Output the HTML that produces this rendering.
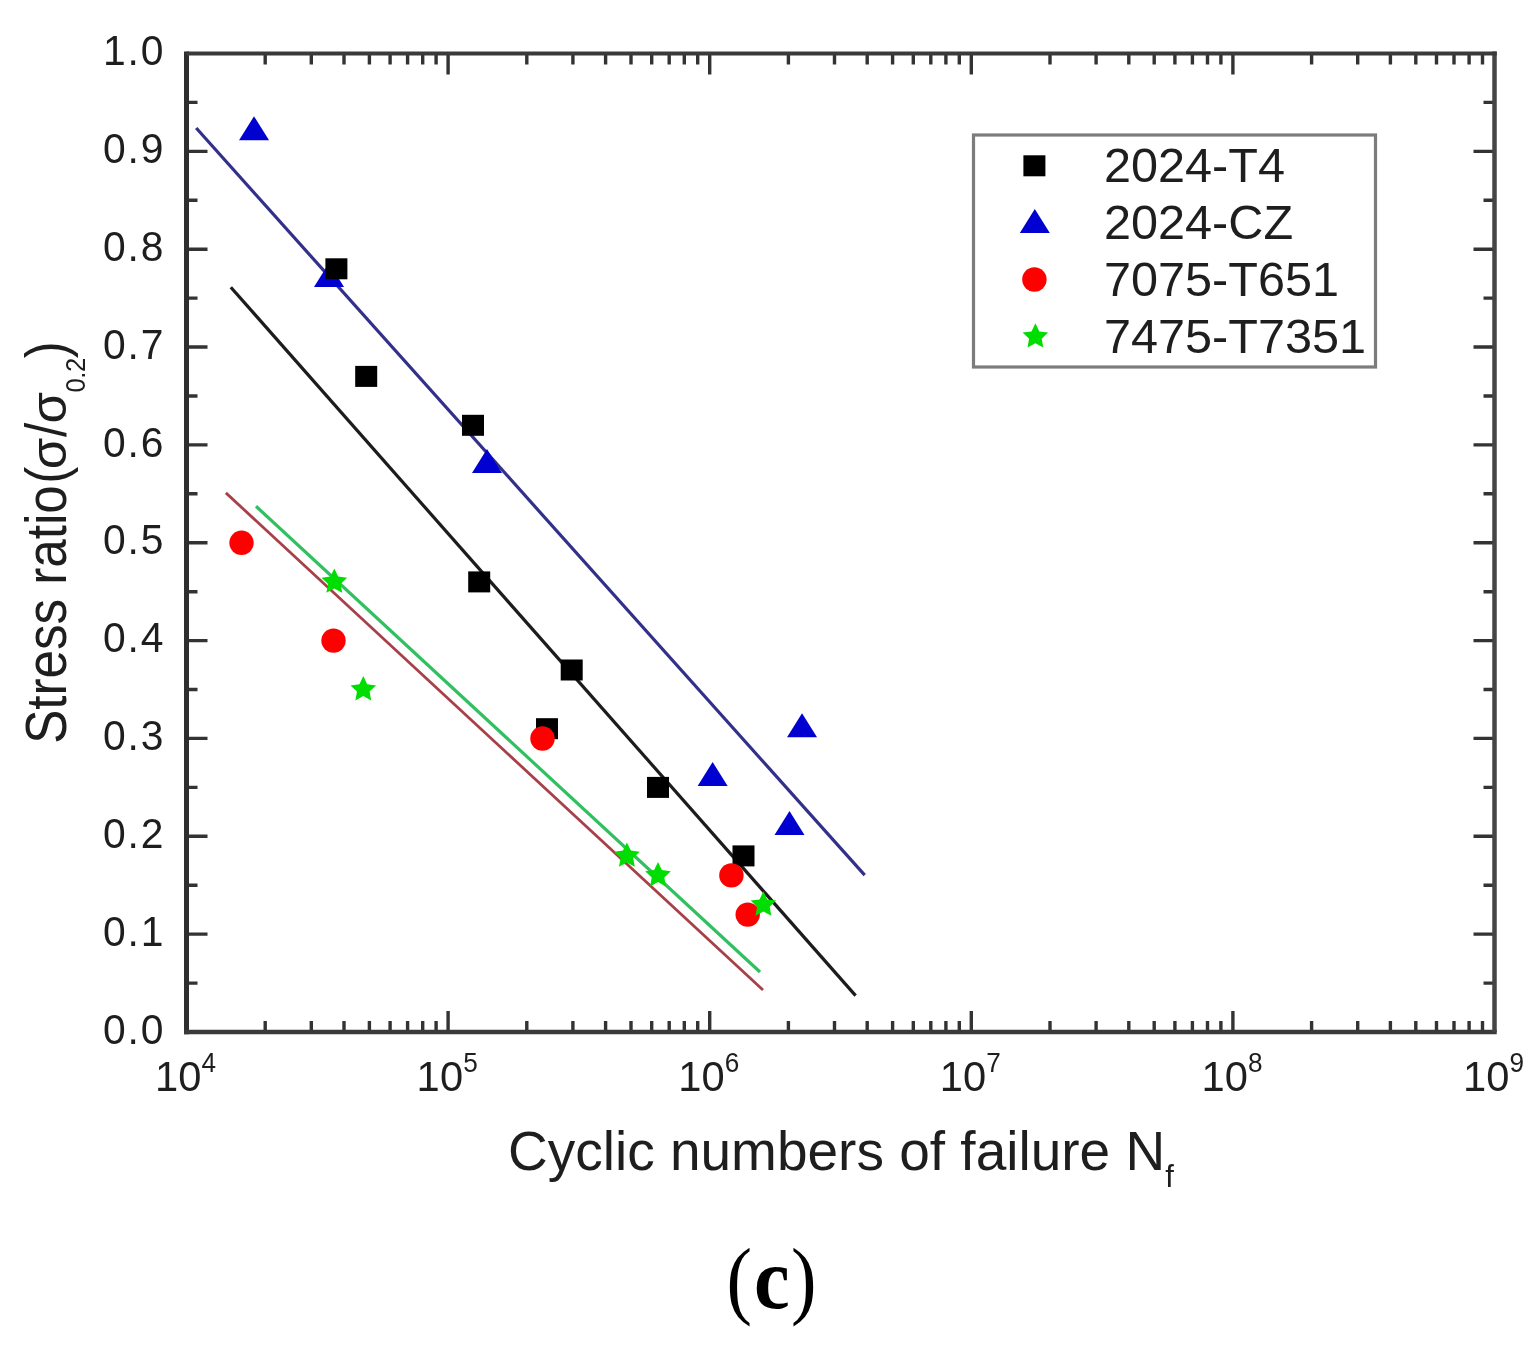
<!DOCTYPE html><html><head><meta charset="utf-8"><title>Stress ratio vs cyclic numbers of failure</title>
<style>html,body{margin:0;padding:0;background:#fff;overflow:hidden;}svg{display:block;}text{font-family:"Liberation Sans",Arial,sans-serif;}text.sf{font-family:"Liberation Serif","Times New Roman",serif;}</style></head><body>
<svg width="1538" height="1348" viewBox="0 0 1538 1348">
<rect width="1538" height="1348" fill="#ffffff"/>
<path d="M186.5 983.1h11M1494.5 983.1h-11M186.5 934.1h21M1494.5 934.1h-21M186.5 885.2h11M1494.5 885.2h-11M186.5 836.3h21M1494.5 836.3h-21M186.5 787.4h11M1494.5 787.4h-11M186.5 738.4h21M1494.5 738.4h-21M186.5 689.5h11M1494.5 689.5h-11M186.5 640.6h21M1494.5 640.6h-21M186.5 591.7h11M1494.5 591.7h-11M186.5 542.8h21M1494.5 542.8h-21M186.5 493.8h11M1494.5 493.8h-11M186.5 444.9h21M1494.5 444.9h-21M186.5 396.0h11M1494.5 396.0h-11M186.5 347.0h21M1494.5 347.0h-21M186.5 298.1h11M1494.5 298.1h-11M186.5 249.2h21M1494.5 249.2h-21M186.5 200.3h11M1494.5 200.3h-11M186.5 151.4h21M1494.5 151.4h-21M186.5 102.4h11M1494.5 102.4h-11M265.2 1032.0v-11M265.2 53.5v11M311.3 1032.0v-11M311.3 53.5v11M344.0 1032.0v-11M344.0 53.5v11M369.4 1032.0v-11M369.4 53.5v11M390.1 1032.0v-11M390.1 53.5v11M407.6 1032.0v-11M407.6 53.5v11M422.7 1032.0v-11M422.7 53.5v11M436.1 1032.0v-11M436.1 53.5v11M448.1 1032.0v-21M448.1 53.5v21M526.8 1032.0v-11M526.8 53.5v11M572.9 1032.0v-11M572.9 53.5v11M605.6 1032.0v-11M605.6 53.5v11M631.0 1032.0v-11M631.0 53.5v11M651.7 1032.0v-11M651.7 53.5v11M669.2 1032.0v-11M669.2 53.5v11M684.3 1032.0v-11M684.3 53.5v11M697.7 1032.0v-11M697.7 53.5v11M709.7 1032.0v-21M709.7 53.5v21M788.4 1032.0v-11M788.4 53.5v11M834.5 1032.0v-11M834.5 53.5v11M867.2 1032.0v-11M867.2 53.5v11M892.6 1032.0v-11M892.6 53.5v11M913.3 1032.0v-11M913.3 53.5v11M930.8 1032.0v-11M930.8 53.5v11M945.9 1032.0v-11M945.9 53.5v11M959.3 1032.0v-11M959.3 53.5v11M971.3 1032.0v-21M971.3 53.5v21M1050.0 1032.0v-11M1050.0 53.5v11M1096.1 1032.0v-11M1096.1 53.5v11M1128.8 1032.0v-11M1128.8 53.5v11M1154.2 1032.0v-11M1154.2 53.5v11M1174.9 1032.0v-11M1174.9 53.5v11M1192.4 1032.0v-11M1192.4 53.5v11M1207.5 1032.0v-11M1207.5 53.5v11M1220.9 1032.0v-11M1220.9 53.5v11M1232.9 1032.0v-21M1232.9 53.5v21M1311.6 1032.0v-11M1311.6 53.5v11M1357.7 1032.0v-11M1357.7 53.5v11M1390.4 1032.0v-11M1390.4 53.5v11M1415.8 1032.0v-11M1415.8 53.5v11M1436.5 1032.0v-11M1436.5 53.5v11M1454.0 1032.0v-11M1454.0 53.5v11M1469.1 1032.0v-11M1469.1 53.5v11M1482.5 1032.0v-11M1482.5 53.5v11" stroke="#333333" stroke-width="3.4" fill="none"/>
<path d="M186.5 51.5V1034.25" stroke="#2e2e2e" stroke-width="5" fill="none"/>
<path d="M184.0 1032.0H1496.75" stroke="#3a3a3a" stroke-width="4.5" fill="none"/>
<path d="M1494.5 51.5V1032.0" stroke="#454545" stroke-width="4.5" fill="none"/>
<path d="M186.5 53.5H1496.75" stroke="#3a3a3a" stroke-width="4" fill="none"/>
<g font-size="43" fill="#1e1e1e" letter-spacing="2.0">
<text transform="translate(161.8 1043.6) scale(0.95 1)" x="3.8" text-anchor="end">0.0</text>
<text transform="translate(161.8 945.8) scale(0.95 1)" x="3.8" text-anchor="end">0.1</text>
<text transform="translate(161.8 847.9) scale(0.95 1)" x="3.8" text-anchor="end">0.2</text>
<text transform="translate(161.8 750.1) scale(0.95 1)" x="3.8" text-anchor="end">0.3</text>
<text transform="translate(161.8 652.2) scale(0.95 1)" x="3.8" text-anchor="end">0.4</text>
<text transform="translate(161.8 554.4) scale(0.95 1)" x="3.8" text-anchor="end">0.5</text>
<text transform="translate(161.8 456.5) scale(0.95 1)" x="3.8" text-anchor="end">0.6</text>
<text transform="translate(161.8 358.7) scale(0.95 1)" x="3.8" text-anchor="end">0.7</text>
<text transform="translate(161.8 260.8) scale(0.95 1)" x="3.8" text-anchor="end">0.8</text>
<text transform="translate(161.8 163.0) scale(0.95 1)" x="3.8" text-anchor="end">0.9</text>
<text transform="translate(161.8 65.1) scale(0.95 1)" x="3.8" text-anchor="end">1.0</text>
</g>
<g font-size="43" fill="#1e1e1e" letter-spacing="0.1">
<text transform="translate(155.0 1091.2) scale(0.97 1)">10<tspan font-size="27" dy="-19.2">4</tspan></text>
<text transform="translate(416.6 1091.2) scale(0.97 1)">10<tspan font-size="27" dy="-19.2">5</tspan></text>
<text transform="translate(678.2 1091.2) scale(0.97 1)">10<tspan font-size="27" dy="-19.2">6</tspan></text>
<text transform="translate(939.8 1091.2) scale(0.97 1)">10<tspan font-size="27" dy="-19.2">7</tspan></text>
<text transform="translate(1201.4 1091.2) scale(0.97 1)">10<tspan font-size="27" dy="-19.2">8</tspan></text>
<text transform="translate(1463.0 1091.2) scale(0.97 1)">10<tspan font-size="27" dy="-19.2">9</tspan></text>
</g>
<text x="508.0" y="1169.5" font-size="55" letter-spacing="0" fill="#1e1e1e">Cyclic numbers of failure N<tspan font-size="31" dy="17">f</tspan></text>
<g transform="translate(66 741) rotate(-90) scale(0.93 1.03)" font-size="55" fill="#1e1e1e"><text x="-3.1" y="0" letter-spacing="0">Stress ratio</text><text x="276.5" y="0">(</text><text transform="translate(292.2 0) scale(1.13 1)" font-size="48.7">σ</text><text x="326.8" y="0">/</text><text transform="translate(341.4 0) scale(1.13 1)" font-size="48.7">σ</text><text x="374.7" y="18.8" font-size="27.5" letter-spacing="-0.4">0.2</text><text x="411.5" y="0">)</text></g>
<g stroke-linecap="butt" fill="none">
<line x1="196.2" y1="128" x2="864.7" y2="875.1" stroke="#33308a" stroke-width="3.2"/>
<line x1="230.8" y1="287.2" x2="855.6" y2="995.6" stroke="#1c1c1c" stroke-width="3.2"/>
<line x1="225.9" y1="492.9" x2="763" y2="990" stroke="#a8404a" stroke-width="2.8"/>
<line x1="256" y1="506.3" x2="760" y2="972" stroke="#30c060" stroke-width="3.2"/>
</g>
<path d="M254.0 116.3L269.0 140.3L239.0 140.3Z" fill="#0000d0"/>
<path d="M329.0 263.1L344.0 287.1L314.0 287.1Z" fill="#0000d0"/>
<path d="M487.0 449.0L502.0 473.0L472.0 473.0Z" fill="#0000d0"/>
<path d="M712.6 762.1L727.6 786.1L697.6 786.1Z" fill="#0000d0"/>
<path d="M789.5 811.0L804.5 835.0L774.5 835.0Z" fill="#0000d0"/>
<path d="M802.0 713.2L817.0 737.2L787.0 737.2Z" fill="#0000d0"/>
<rect x="325.4" y="258.3" width="22" height="21" fill="#000"/>
<rect x="355.2" y="365.9" width="22" height="21" fill="#000"/>
<rect x="462.0" y="414.8" width="22" height="21" fill="#000"/>
<rect x="468.2" y="571.4" width="22" height="21" fill="#000"/>
<rect x="536.0" y="718.2" width="22" height="21" fill="#000"/>
<rect x="560.7" y="659.5" width="22" height="21" fill="#000"/>
<rect x="647.0" y="776.9" width="22" height="21" fill="#000"/>
<rect x="732.5" y="845.4" width="22" height="21" fill="#000"/>
<circle cx="241.5" cy="542.8" r="12.2" fill="#ff0000"/>
<circle cx="333.5" cy="640.6" r="12.2" fill="#ff0000"/>
<circle cx="542.5" cy="738.5" r="12.2" fill="#ff0000"/>
<circle cx="731.4" cy="875.4" r="12.2" fill="#ff0000"/>
<circle cx="747.7" cy="914.6" r="12.2" fill="#ff0000"/>
<polygon points="334.3,568.4 338.2,576.6 347.1,577.7 340.6,583.9 342.2,592.8 334.3,588.5 326.4,592.8 328.0,583.9 321.5,577.7 330.4,576.6" fill="#00dd00"/>
<polygon points="363.3,676.0 367.2,684.2 376.1,685.4 369.6,691.6 371.2,700.4 363.3,696.1 355.4,700.4 357.0,691.6 350.5,685.4 359.4,684.2" fill="#00dd00"/>
<polygon points="626.9,842.4 630.8,850.5 639.7,851.7 633.2,857.9 634.8,866.8 626.9,862.5 619.0,866.8 620.6,857.9 614.1,851.7 623.0,850.5" fill="#00dd00"/>
<polygon points="658.0,861.9 661.9,870.1 670.8,871.3 664.3,877.5 665.9,886.4 658.0,882.0 650.1,886.4 651.7,877.5 645.2,871.3 654.1,870.1" fill="#00dd00"/>
<polygon points="763.4,891.3 767.3,899.5 776.2,900.6 769.7,906.8 771.3,915.7 763.4,911.4 755.5,915.7 757.1,906.8 750.6,900.6 759.5,899.5" fill="#00dd00"/>
<rect x="973.5" y="135" width="402" height="232" fill="#fff" stroke="#7c7c7c" stroke-width="3.2"/>
<rect x="1023.4" y="155.3" width="22" height="21" fill="#000"/>
<path d="M1034.8 209.0L1049.8 233.0L1019.8 233.0Z" fill="#0000d0"/>
<circle cx="1034.4" cy="279.5" r="12.2" fill="#ff0000"/>
<polygon points="1035.4,323.2 1039.3,331.4 1048.2,332.5 1041.7,338.7 1043.3,347.6 1035.4,343.3 1027.5,347.6 1029.1,338.7 1022.6,332.5 1031.5,331.4" fill="#00dd00"/>
<g font-size="48.6" fill="#1e1e1e" letter-spacing="0">
<text x="1104.0" y="182.0">2024-T4</text>
<text x="1104.0" y="239.0">2024-CZ</text>
<text x="1104.0" y="296.0">7075-T651</text>
<text x="1104.0" y="353.0">7475-T7351</text>
</g>
<g fill="#000"><text class="sf" transform="translate(726.4 1307.7) scale(0.88 1)" font-size="87">(</text><text class="sf" transform="translate(754.1 1307.7) scale(0.93 1)" font-size="86.5" font-weight="bold">c</text><text class="sf" transform="translate(791.1 1307.7) scale(0.88 1)" font-size="87">)</text></g>
</svg></body></html>
